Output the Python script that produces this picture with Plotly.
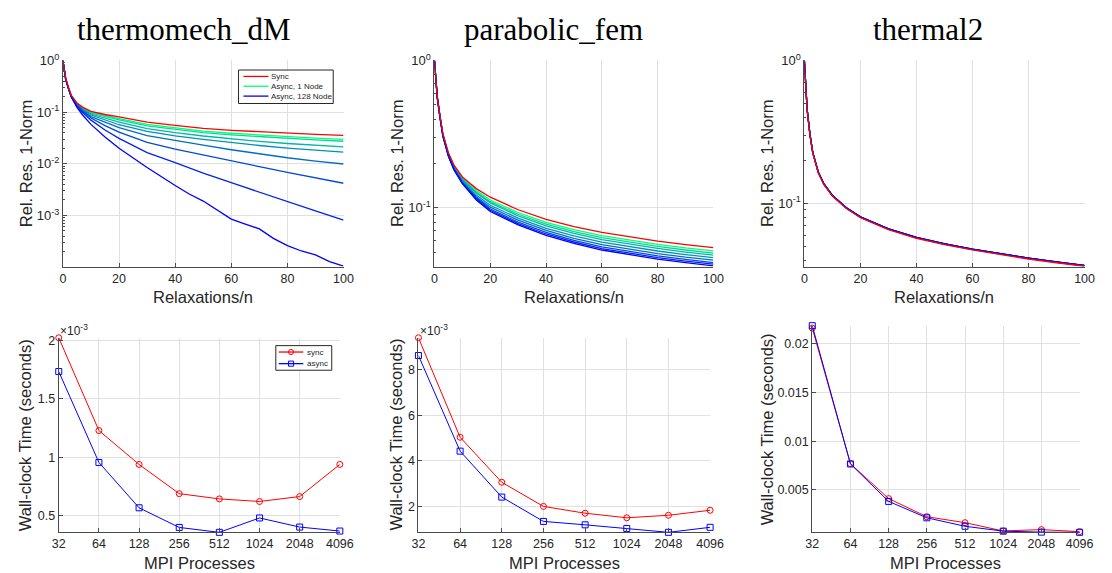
import math
import plotly.graph_objects as go

# ---------------- data ----------------
# Relaxation counts (sweeps / n) at which the residual was recorded
relax = [0, 1, 2, 3, 5, 7, 10, 15, 20, 30, 40, 50, 60, 70, 80, 90, 100]
relax_fine = [0, 1, 2, 3, 5, 7, 10, 15, 20, 30, 40, 45, 50, 55, 60, 65, 70, 75, 80, 85, 90, 95, 100]

node_labels = ["Async, 1 Node", "Async, 2 Node", "Async, 4 Node", "Async, 8 Node",
               "Async, 16 Node", "Async, 32 Node", "Async, 64 Node", "Async, 128 Node"]

# thermomech_dM : relative residual 1-norm
tm_sync = [1, 0.45, 0.30, 0.21, 0.150, 0.125, 0.104, 0.090, 0.081, 0.064, 0.0555, 0.0485, 0.0445, 0.0415, 0.0390, 0.0370, 0.0354]
tm_async_1 = [1, 0.445, 0.297, 0.208, 0.147, 0.121, 0.099, 0.085, 0.075, 0.058, 0.0495, 0.0428, 0.0390, 0.0360, 0.0335, 0.0314, 0.0297]
tm_async_2 = [1, 0.44, 0.295, 0.206, 0.146, 0.119, 0.097, 0.082, 0.071, 0.054, 0.046, 0.040, 0.0362, 0.0334, 0.0310, 0.0290, 0.0273]
tm_async_4 = [1, 0.44, 0.292, 0.204, 0.143, 0.115, 0.092, 0.076, 0.064, 0.048, 0.040, 0.0345, 0.0302, 0.0272, 0.0247, 0.0228, 0.0212]
tm_async_8 = [1, 0.435, 0.29, 0.202, 0.141, 0.112, 0.088, 0.070, 0.057, 0.0425, 0.0347, 0.0296, 0.0257, 0.0226, 0.0201, 0.0183, 0.0168]
tm_async_16 = [1, 0.43, 0.287, 0.20, 0.138, 0.108, 0.082, 0.063, 0.050, 0.035, 0.028, 0.0229, 0.0187, 0.0156, 0.0131, 0.0113, 0.0099]
tm_async_32 = [1, 0.43, 0.285, 0.198, 0.135, 0.104, 0.077, 0.055, 0.041, 0.026, 0.0193, 0.0150, 0.0113, 0.0088, 0.0068, 0.0053, 0.0042]
tm_async_64 = [1, 0.425, 0.283, 0.197, 0.131, 0.098, 0.070, 0.045, 0.031, 0.0165, 0.0105, 0.0066, 0.0043, 0.0028, 0.00185, 0.00122, 0.00081]
tm_async_128 = [1, 0.42, 0.28, 0.195, 0.123, 0.088, 0.058, 0.033, 0.020, 0.0085, 0.0038, 0.0026, 0.0019,
                0.00125, 0.00085, 0.00068, 0.00055, 0.00036, 0.00026, 0.000205, 0.000172, 0.000128, 0.000104]

# parabolic_fem
pf_sync = [1, 0.57, 0.42, 0.32, 0.236, 0.195, 0.162, 0.135, 0.118, 0.097, 0.0834, 0.0745, 0.068, 0.0633, 0.0594, 0.0562, 0.0536]
pf_async_1 = [1, 0.568, 0.417, 0.317, 0.234, 0.192, 0.159, 0.131, 0.113, 0.0929, 0.0797, 0.0711, 0.0647, 0.0602, 0.0565, 0.0534, 0.0510]
pf_async_2 = [1, 0.566, 0.416, 0.316, 0.232, 0.191, 0.157, 0.128, 0.110, 0.0904, 0.0774, 0.0689, 0.0627, 0.0583, 0.0547, 0.0517, 0.0493]
pf_async_4 = [1, 0.565, 0.414, 0.314, 0.231, 0.189, 0.155, 0.126, 0.108, 0.0881, 0.0753, 0.0670, 0.0608, 0.0565, 0.0530, 0.0501, 0.0478]
pf_async_8 = [1, 0.563, 0.412, 0.313, 0.229, 0.187, 0.153, 0.122, 0.104, 0.0851, 0.0726, 0.0644, 0.0585, 0.0543, 0.0509, 0.0481, 0.0459]
pf_async_16 = [1, 0.562, 0.411, 0.311, 0.227, 0.185, 0.150, 0.119, 0.101, 0.0824, 0.0702, 0.0621, 0.0562, 0.0522, 0.0489, 0.0462, 0.0441]
pf_async_32 = [1, 0.560, 0.409, 0.309, 0.226, 0.183, 0.148, 0.117, 0.0982, 0.0799, 0.0680, 0.0601, 0.0543, 0.0504, 0.0472, 0.0446, 0.0425]
pf_async_64 = [1, 0.559, 0.408, 0.308, 0.225, 0.182, 0.147, 0.115, 0.0962, 0.0781, 0.0664, 0.0586, 0.0529, 0.0491, 0.0459, 0.0434, 0.0414]
pf_async_128 = [1, 0.559, 0.407, 0.307, 0.224, 0.181, 0.146, 0.113, 0.0944, 0.0766, 0.0651, 0.0574, 0.0517, 0.0479, 0.0448, 0.0424, 0.0404]

# thermal2
t2_sync = [1, 0.45, 0.300, 0.2250, 0.1630, 0.1350, 0.1125, 0.0920, 0.0795, 0.0655, 0.0570, 0.0515, 0.0472, 0.0438, 0.0408, 0.0384, 0.0363]
t2_async_1 = [1, 0.451, 0.301, 0.2255, 0.1635, 0.1355, 0.1130, 0.0925, 0.0799, 0.0659, 0.0573, 0.0518, 0.0475, 0.0441, 0.0411, 0.0387, 0.0365]
t2_async_2 = [1, 0.452, 0.302, 0.2260, 0.1638, 0.1358, 0.1132, 0.0927, 0.0800, 0.0660, 0.0574, 0.0519, 0.0476, 0.0442, 0.0412, 0.0387, 0.0366]
t2_async_4 = [1, 0.452, 0.302, 0.2263, 0.1640, 0.1361, 0.1133, 0.0928, 0.0801, 0.0661, 0.0575, 0.0519, 0.0476, 0.0442, 0.0412, 0.0388, 0.0366]
t2_async_8 = [1, 0.453, 0.303, 0.2267, 0.1642, 0.1363, 0.1134, 0.0929, 0.0802, 0.0662, 0.0576, 0.0520, 0.0477, 0.0443, 0.0413, 0.0388, 0.0367]
t2_async_16 = [1, 0.453, 0.303, 0.2270, 0.1644, 0.1365, 0.1135, 0.0930, 0.0803, 0.0662, 0.0576, 0.0520, 0.0477, 0.0443, 0.0413, 0.0388, 0.0367]
t2_async_32 = [1, 0.454, 0.304, 0.2273, 0.1646, 0.1367, 0.1136, 0.0931, 0.0804, 0.0663, 0.0577, 0.0521, 0.0478, 0.0444, 0.0414, 0.0389, 0.0367]
t2_async_64 = [1, 0.454, 0.304, 0.2276, 0.1648, 0.1368, 0.1137, 0.0931, 0.0804, 0.0663, 0.0577, 0.0521, 0.0478, 0.0444, 0.0414, 0.0389, 0.0368]
t2_async_128 = [1, 0.455, 0.305, 0.2280, 0.1650, 0.1370, 0.1138, 0.0932, 0.0805, 0.0664, 0.0578, 0.0522, 0.0479, 0.0444, 0.0414, 0.0389, 0.0368]

# Strong scaling: wall-clock time (seconds) vs. MPI processes
procs = [32, 64, 128, 256, 512, 1024, 2048, 4096]
proc_labels = ["32", "64", "128", "256", "512", "1024", "2048", "4096"]
tm_time_sync = [2.022e-3, 1.228e-3, 0.938e-3, 0.688e-3, 0.643e-3, 0.621e-3, 0.663e-3, 0.938e-3]
tm_time_async = [1.733e-3, 0.955e-3, 0.567e-3, 0.399e-3, 0.357e-3, 0.480e-3, 0.402e-3, 0.368e-3]
pf_time_sync = [9.415e-3, 5.04e-3, 3.06e-3, 2.00e-3, 1.70e-3, 1.50e-3, 1.61e-3, 1.83e-3]
pf_time_async = [8.635e-3, 4.43e-3, 2.41e-3, 1.34e-3, 1.19e-3, 1.03e-3, 0.86e-3, 1.08e-3]
t2_time_sync = [0.0216, 0.0077, 0.00412, 0.00226, 0.00165, 0.00080, 0.00094, 0.00073]
t2_time_async = [0.02185, 0.00767, 0.00383, 0.00215, 0.00128, 0.00078, 0.00068, 0.00066]

matrix_names = ["thermomech_dM", "parabolic_fem", "thermal2"]

# ---------------- style ----------------
W, H = 1112, 573
FONT = "Liberation Sans, Arial, Helvetica, sans-serif"
TXT = "#262626"
AXC = "#4a4a4a"
GRID = "#e0e0e0"
SYNC_RED = "#ff0000"
ASYNC_BLUE = "#0000ff"
# winter colormap, green (1 node) -> blue (128 nodes)
WINTER = ["#00ff80", "#00db92", "#00b6a4", "#0092b6", "#006dc8", "#0049db", "#0024ed", "#0000ff"]


def px(x):
    return x / W


def py(y):
    return 1 - y / H


# axes boxes in pixels: left, right, top, bottom
BOX = {
    1: (57.0, 343.0, 52.3, 261.7),
    2: (435.7, 720.0, 52.3, 261.7),
    3: (812.7, 1098.3, 52.3, 261.7),
    4: (52.7, 339.3, 334.0, 531.7),
    5: (419.3, 716.7, 334.0, 531.7),
    6: (820.7, 1093.3, 321.7, 531.7),
}

fig = go.Figure()

residual_sets = [
    (tm_sync, [tm_async_1, tm_async_2, tm_async_4, tm_async_8, tm_async_16, tm_async_32, tm_async_64, tm_async_128]),
    (pf_sync, [pf_async_1, pf_async_2, pf_async_4, pf_async_8, pf_async_16, pf_async_32, pf_async_64, pf_async_128]),
    (t2_sync, [t2_async_1, t2_async_2, t2_async_4, t2_async_8, t2_async_16, t2_async_32, t2_async_64, t2_async_128]),
]

for p, (sync, asyncs) in enumerate(residual_sets, start=1):
    xa = "x" if p == 1 else f"x{p}"
    ya = "y" if p == 1 else f"y{p}"
    for k, series in enumerate(asyncs):
        xs = relax_fine if len(series) == len(relax_fine) else relax
        fig.add_trace(go.Scatter(
            x=xs, y=series, mode="lines", xaxis=xa, yaxis=ya,
            line=dict(color=WINTER[k], width=1.3), name=node_labels[k],
        ))
    fig.add_trace(go.Scatter(
        x=relax, y=sync, mode="lines", xaxis=xa, yaxis=ya,
        line=dict(color=SYNC_RED, width=1.3), name="Sync",
    ))

timing_sets = [
    (tm_time_sync, tm_time_async),
    (pf_time_sync, pf_time_async),
    (t2_time_sync, t2_time_async),
]
for i, (ts, ta) in enumerate(timing_sets):
    p = 4 + i
    fig.add_trace(go.Scatter(
        x=procs, y=ts, mode="lines+markers", xaxis=f"x{p}", yaxis=f"y{p}",
        line=dict(color=SYNC_RED, width=1),
        marker=dict(symbol="circle-open", size=6, color=SYNC_RED, line=dict(width=1)),
        name="sync", cliponaxis=False,
    ))
    fig.add_trace(go.Scatter(
        x=procs, y=ta, mode="lines+markers", xaxis=f"x{p}", yaxis=f"y{p}",
        line=dict(color=ASYNC_BLUE, width=1),
        marker=dict(symbol="square-open", size=6, color=ASYNC_BLUE, line=dict(width=1)),
        name="async", cliponaxis=False,
    ))

common = dict(
    showline=True, linecolor=AXC, linewidth=1, mirror=False,
    ticks="inside", ticklen=4, tickcolor=AXC, tickwidth=1,
    showgrid=True, gridcolor=GRID, gridwidth=1, zeroline=False,
    tickfont=dict(family=FONT, size=12.5, color=TXT),
)

EPS = 1e-4  # small pad so edge markers stay inside the visible range
log_ticks = {
    1: ([1e-3, 1e-2, 1e-1, 1], ["10<sup>-3</sup>", "10<sup>-2</sup>", "10<sup>-1</sup>", "10<sup>0</sup>"], [-3.99, 0]),
    2: ([1e-1, 1], ["10<sup>-1</sup>", "10<sup>0</sup>"], [math.log10(0.0399), 0]),
    3: ([1e-1, 1], ["10<sup>-1</sup>", "10<sup>0</sup>"], [math.log10(0.0361), 0]),
}


def tight(lo, hi):
    span = hi - lo
    return [lo - span * EPS, hi + span * EPS]


lin_ticks = {
    4: ([0.5e-3, 1.0e-3, 1.5e-3, 2.0e-3], ["0.5", "1", "1.5", "2"], tight(min(tm_time_async), max(tm_time_sync))),
    5: ([2e-3, 4e-3, 6e-3, 8e-3], ["2", "4", "6", "8"], tight(min(pf_time_async), max(pf_time_sync))),
    6: ([0.005, 0.01, 0.015, 0.02], ["0.005", "0.01", "0.015", "0.02"], tight(min(t2_time_async), max(t2_time_async))),
}

layout_axes = {}
for p in range(1, 7):
    l, r, t, b = BOX[p]
    xk = "xaxis" if p == 1 else f"xaxis{p}"
    yk = "yaxis" if p == 1 else f"yaxis{p}"
    xa = "x" if p == 1 else f"x{p}"
    ya = "y" if p == 1 else f"y{p}"
    if p <= 3:
        xcfg = dict(common, domain=[px(l), px(r)], anchor=ya, range=[0, 100],
                    tickvals=[0, 20, 40, 60, 80, 100])
        tv, tt, rng = log_ticks[p]
        ycfg = dict(common, domain=[py(b), py(t)], anchor=xa, type="log", range=rng,
                    tickvals=tv, ticktext=tt, tickfont=dict(family=FONT, size=13, color=TXT),
                    minor=dict(ticks="inside", ticklen=2, tickcolor=AXC, dtick="D1", showgrid=False))
    else:
        xcfg = dict(common, domain=[px(l), px(r)], anchor=ya, type="log",
                    range=[math.log10(32) - 0.0004, math.log10(4096) + 0.0004],
                    tickvals=procs, ticktext=proc_labels)
        tv, tt, rng = lin_ticks[p]
        ycfg = dict(common, domain=[py(b), py(t)], anchor=xa, range=rng,
                    tickvals=tv, ticktext=tt)
    layout_axes[xk] = xcfg
    layout_axes[yk] = ycfg

annotations = []
shapes = []

# panel titles
for name, cx in zip(matrix_names, [180.5, 557.5, 938.5]):
    annotations.append(dict(text=name, x=px(cx), y=py(21), xref="paper", yref="paper",
                            xanchor="center", yanchor="middle", showarrow=False,
                            font=dict(family="Liberation Serif, Times New Roman, serif", size=31, color="#000000")))

ylab_x = {1: 19, 2: 397, 3: 774, 4: 18.5, 5: 397, 6: 775}
for p in range(1, 7):
    l, r, t, b = BOX[p]
    xtitle = "Relaxations/n" if p <= 3 else "MPI Processes"
    ytitle = "Rel. Res. 1-Norm" if p <= 3 else "Wall-clock Time (seconds)"
    xty = 292.5 if p <= 3 else 563
    annotations.append(dict(text=xtitle, x=px((l + r) / 2), y=py(xty), xref="paper", yref="paper",
                            xanchor="center", yanchor="middle", showarrow=False,
                            font=dict(family=FONT, size=16.5, color=TXT)))
    annotations.append(dict(text=ytitle, x=px(ylab_x[p]), y=py((t + b) / 2), xref="paper", yref="paper",
                            xanchor="center", yanchor="middle", showarrow=False, textangle=-90,
                            font=dict(family=FONT, size=16.5, color=TXT)))

# shared exponent labels of the scaled time axes
for xl in (52.0, 418.5):
    annotations.append(dict(text="\u00d710<sup>-3</sup>", x=px(xl), y=py(326), xref="paper", yref="paper",
                            xanchor="left", yanchor="middle", showarrow=False,
                            font=dict(family=FONT, size=12, color=TXT)))


# ---- legends (drawn in paper space) ----
def legend_box(x0, y0, x1, y1):
    shapes.append(dict(type="rect", xref="paper", yref="paper",
                       x0=px(x0), x1=px(x1), y0=py(y1), y1=py(y0),
                       line=dict(color="#262626", width=1), fillcolor="white", layer="above"))


def legend_text(txt, x, y):
    annotations.append(dict(text=txt, x=px(x), y=py(y), xref="paper", yref="paper",
                            xanchor="left", yanchor="middle", showarrow=False,
                            font=dict(family=FONT, size=8, color=TXT)))


def legend_line(x0, x1, y, color):
    shapes.append(dict(type="line", xref="paper", yref="paper",
                       x0=px(x0), x1=px(x1), y0=py(y), y1=py(y),
                       line=dict(color=color, width=1.3), layer="above"))


# residual legend
legend_box(236, 62, 332.5, 96)
for label, color, yy in (("Sync", SYNC_RED, 68.5),
                         (node_labels[0], WINTER[0], 78.5),
                         (node_labels[-1], WINTER[-1], 88.5)):
    legend_line(241, 266.5, yy, color)
    legend_text(label, 267.5, yy)

# timing legend
legend_box(274, 342, 331, 367)
for label, color, sym, yy in (("sync", SYNC_RED, "circle", 348.5), ("async", ASYNC_BLUE, "square", 360.3)):
    legend_line(277, 302, yy, color)
    r = 2.6
    shapes.append(dict(type="circle" if sym == "circle" else "rect", xref="paper", yref="paper",
                       x0=px(289.5 - r), x1=px(289.5 + r), y0=py(yy + r), y1=py(yy - r),
                       line=dict(color=color, width=1), fillcolor="rgba(0,0,0,0)", layer="above"))
    legend_text(label, 304, yy)

fig.update_layout(
    width=W, height=H, margin=dict(l=0, r=0, t=0, b=0),
    paper_bgcolor="white", plot_bgcolor="white",
    showlegend=False,
    annotations=annotations,
    shapes=shapes,
    **layout_axes,
)

fig.write_html("out.html")
